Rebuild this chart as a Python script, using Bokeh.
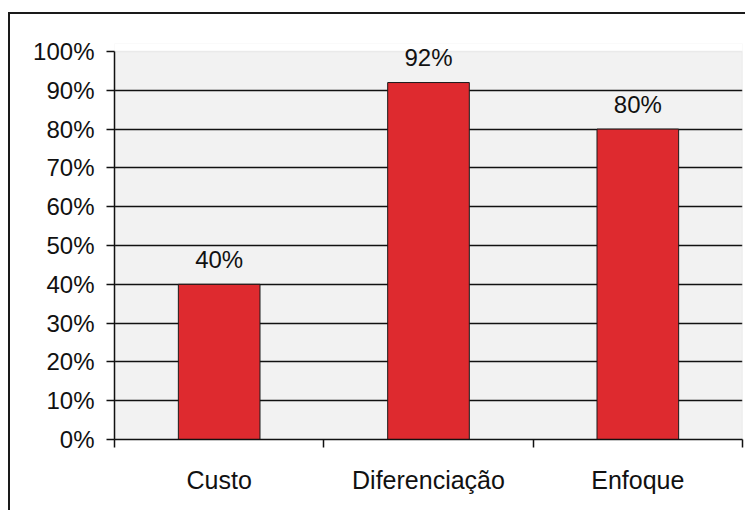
from bokeh.plotting import figure
from bokeh.models import FixedTicker, NumeralTickFormatter, ColumnDataSource, BoxAnnotation
from bokeh.core.properties import value
from bokeh.embed import file_html
from bokeh.resources import INLINE

categories = ["Custo", "Diferenciação", "Enfoque"]
values = [0.40, 0.92, 0.80]
labels = ["40%", "92%", "80%"]
y_ticks = [0.0, 0.1, 0.2, 0.3, 0.4, 0.5, 0.6, 0.7, 0.8, 0.9, 1.0]

xpos = [i + 0.5 for i in range(len(categories))]
src = ColumnDataSource(dict(x=xpos, top=values, label=labels))

FONT = "Liberation Sans"
# small headroom above 100% so that the top label is not clipped (8px of a 388px axis)
y_top = 1.0 + 8.0 / 388.0

p = figure(width=737, height=498, x_range=(0, len(categories)), y_range=(0, y_top),
           output_backend="svg", toolbar_location=None,
           min_border_left=104, min_border_top=29, min_border_right=5, min_border_bottom=73)
p.styles = {"margin-left": "8px", "margin-top": "12px",
            "border-left": "2px solid #1a1a1a", "border-top": "2px solid #1a1a1a"}

p.background_fill_color = "#f2f2f2"
p.border_fill_color = "white"
p.outline_line_color = None

# white strip above 100% and the light grey plot-area border
p.add_layout(BoxAnnotation(bottom=1.0, fill_color="white", fill_alpha=1,
                           line_color=None, level="underlay"))
p.add_layout(BoxAnnotation(left=0, right=len(categories), bottom=0, top=1.0,
                           fill_alpha=0, line_color="#c8c8c8", line_width=1.5,
                           level="underlay"))

p.vbar(x="x", top="top", width=0.39, source=src, fill_color="#de2a2f",
       line_color="#1a1a1a", line_width=1)
p.text(x="x", y="top", text="label", source=src, text_align="center",
       text_baseline="alphabetic", y_offset=-25, text_font=value(FONT),
       text_font_size="24px", text_color="#111111")

# x axis: labels at category centres, ticks at category boundaries
xt = FixedTicker(ticks=xpos, minor_ticks=list(range(len(categories) + 1)))
p.xaxis.ticker = xt
p.xaxis.major_label_overrides = {x: c for x, c in zip(xpos, categories)}
p.xaxis.major_tick_line_color = None
p.xaxis.minor_tick_line_color = "#111111"
p.xaxis.minor_tick_out = 8
p.xaxis.minor_tick_in = 0
p.xaxis.minor_tick_line_width = 1.5
p.xaxis.axis_line_color = "#111111"
p.xaxis.axis_line_width = 1.5
p.xaxis.major_label_text_font = FONT
p.xaxis.major_label_text_font_size = "25px"
p.xaxis.major_label_text_color = "#111111"
p.xaxis.major_label_standoff = 18

p.yaxis.ticker = FixedTicker(ticks=y_ticks)
p.yaxis.formatter = NumeralTickFormatter(format="0%")
p.yaxis.bounds = (0, 1)
p.yaxis.minor_tick_line_color = None
p.yaxis.major_tick_out = 8
p.yaxis.major_tick_in = 0
p.yaxis.major_tick_line_width = 1.5
p.yaxis.major_tick_line_color = "#111111"
p.yaxis.axis_line_color = "#111111"
p.yaxis.axis_line_width = 1.5
p.yaxis.major_label_text_font = FONT
p.yaxis.major_label_text_font_size = "24px"
p.yaxis.major_label_text_color = "#111111"
p.yaxis.major_label_standoff = 12

p.xgrid.grid_line_color = None
p.ygrid.ticker = FixedTicker(ticks=y_ticks[1:-1])
p.ygrid.grid_line_color = "#111111"
p.ygrid.grid_line_width = 1.5

open("out.html", "w").write(file_html(p, INLINE))
